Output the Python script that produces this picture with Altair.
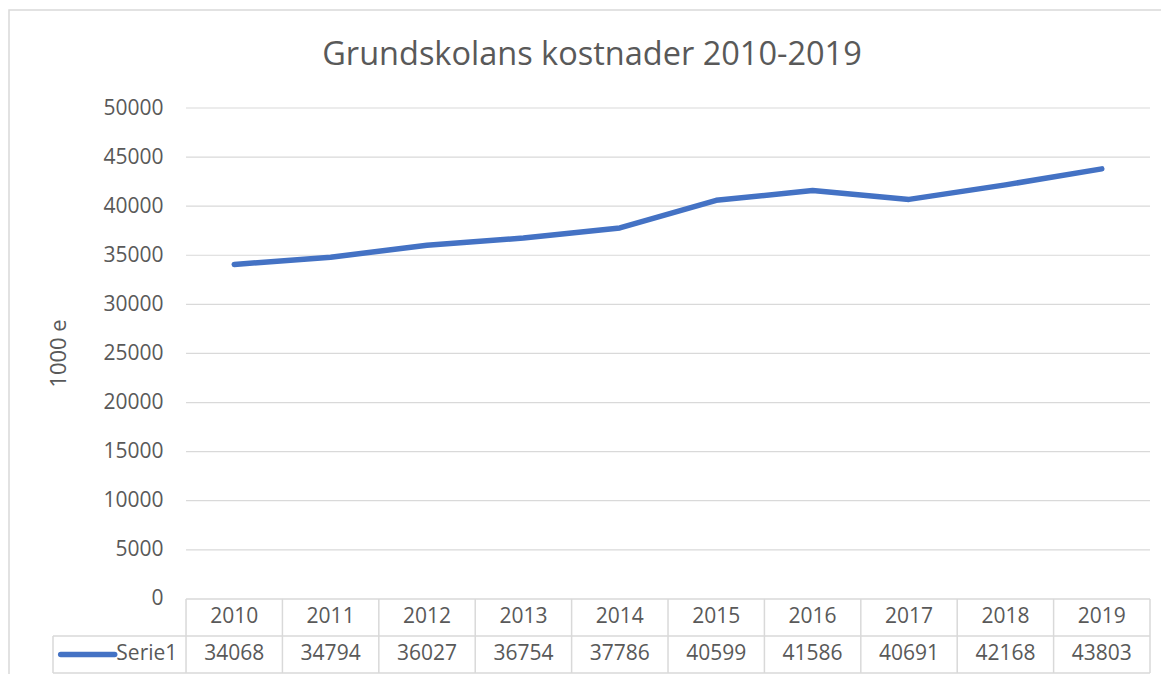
import altair as alt
import pandas as pd

# ---- data ----
years = [2010, 2011, 2012, 2013, 2014, 2015, 2016, 2017, 2018, 2019]
costs = [34068, 34794, 36027, 36754, 37786, 40599, 41586, 40691, 42168, 43803]
y_ticks = [0, 5000, 10000, 15000, 20000, 25000, 30000, 35000, 40000, 45000, 50000]
series_name = "Serie1"
title_text = "Grundskolans kostnader 2010-2019"
y_title = "1000 e"

# ---- layout constants (data units of the two scales) ----
X_MIN, X_MAX = -1.38, 10.0          # left table column extends left of the plot
ROW_MID, ROW_BOT = -3776, -7550      # data-table rows below the zero line
Y_MAX = 50000
FONT = "Open Sans"
TXT = "#595959"
GRID = "#d9d9d9"
BLUE = "#4472C4"
FS = 21

n = len(years)
df = pd.DataFrame({"year": [str(y) for y in years], "cost": costs,
                   "xc": [i + 0.5 for i in range(n)]})
df["label"] = df["cost"].astype(str)

x_scale = alt.Scale(domain=[X_MIN, X_MAX], nice=False, zero=False)
y_scale = alt.Scale(domain=[ROW_BOT, Y_MAX], nice=False, zero=False)
y_axis = alt.Axis(values=y_ticks, offset=-133, domain=False, ticks=False,
                  grid=False, labelPadding=23, labelFont=FONT,
                  labelFontSize=FS, labelColor=TXT, format="d",
                  title=y_title, titleFont=FONT, titleFontSize=22,
                  titleFontWeight="normal", titleColor=TXT,
                  titleAngle=270, titleX=-128, titleY=245,
                  titleAlign="center", titleBaseline="middle")


def X(field):
    return alt.X(field, scale=x_scale, axis=None)


def Y(field):
    return alt.Y(field, scale=y_scale, axis=y_axis)


# gridlines
grid_df = pd.DataFrame({"v": y_ticks[1:], "xa": 0.0, "xb": float(n)})
grid = alt.Chart(grid_df).mark_rule(color=GRID, strokeWidth=1.2).encode(
    x=X("xa:Q"), x2="xb:Q", y=Y("v:Q"))

# table horizontal lines
h_df = pd.DataFrame({"y": [0, ROW_MID, ROW_BOT], "xa": [0.0, X_MIN, X_MIN],
                     "xb": [float(n)] * 3})
hlines = alt.Chart(h_df).mark_rule(color=GRID, strokeWidth=1.5).encode(
    x=X("xa:Q"), x2="xb:Q", y=Y("y:Q"))

# table vertical lines
v_x = [float(i) for i in range(n + 1)] + [X_MIN]
v_df = pd.DataFrame({"x": v_x, "ya": [0] * (n + 1) + [ROW_MID],
                     "yb": [ROW_BOT] * (n + 2)})
vlines = alt.Chart(v_df).mark_rule(color=GRID, strokeWidth=1.5).encode(
    x=X("x:Q"), y=Y("ya:Q"), y2="yb:Q")

# the series line
line = alt.Chart(df).mark_line(color=BLUE, strokeWidth=5.5, strokeCap="round",
                               strokeJoin="round").encode(
    x=X("xc:Q"), y=Y("cost:Q"))

# table texts
mid1 = ROW_MID / 2
mid2 = (ROW_MID + ROW_BOT) / 2
year_txt = alt.Chart(df).mark_text(font=FONT, fontSize=FS, color=TXT,
                                   baseline="middle").encode(
    x=X("xc:Q"), y=Y("ym:Q"), text="year:N").transform_calculate(ym=str(mid1))
val_txt = alt.Chart(df).mark_text(font=FONT, fontSize=FS, color=TXT,
                                  baseline="middle").encode(
    x=X("xc:Q"), y=Y("ym:Q"), text="label:N").transform_calculate(ym=str(mid2))

leg_df = pd.DataFrame({"name": [series_name], "xt": [-0.09], "ka": [-1.30],
                       "kb": [-0.74], "y": [mid2]})
leg_txt = alt.Chart(leg_df).mark_text(font=FONT, fontSize=FS, color=TXT,
                                      align="right", baseline="middle").encode(
    x=X("xt:Q"), y=Y("y:Q"), text="name:N")
leg_key = alt.Chart(leg_df).mark_rule(color=BLUE, strokeWidth=5.5,
                                      strokeCap="round").encode(
    x=X("ka:Q"), x2="kb:Q", y=Y("y:Q"))

# outer chart-area frame and title (decoration)
frame = alt.Chart(pd.DataFrame({"a": [0]})).mark_rect(
    fillOpacity=0, stroke=GRID, strokeWidth=1.5).encode(
    x=alt.value(-44), x2=alt.value(1112), y=alt.value(-98), y2=alt.value(700))
title = alt.Chart(pd.DataFrame({"t": [title_text]})).mark_text(
    font=FONT, fontSize=32.5, color=TXT, align="center",
    baseline="alphabetic").encode(
    x=alt.value(539), y=alt.value(-43), text="t:N")

chart = alt.layer(frame, title, grid, hlines, vlines, line, year_txt, val_txt,
                  leg_key, leg_txt).properties(
    width=1097, height=565,
    padding={"left": 45, "top": 100, "right": 11, "bottom": 1},
    autosize="none",
    background="white",
).configure_view(stroke=None)

chart.save("out.html", embed_options={"renderer": "svg", "actions": False})
